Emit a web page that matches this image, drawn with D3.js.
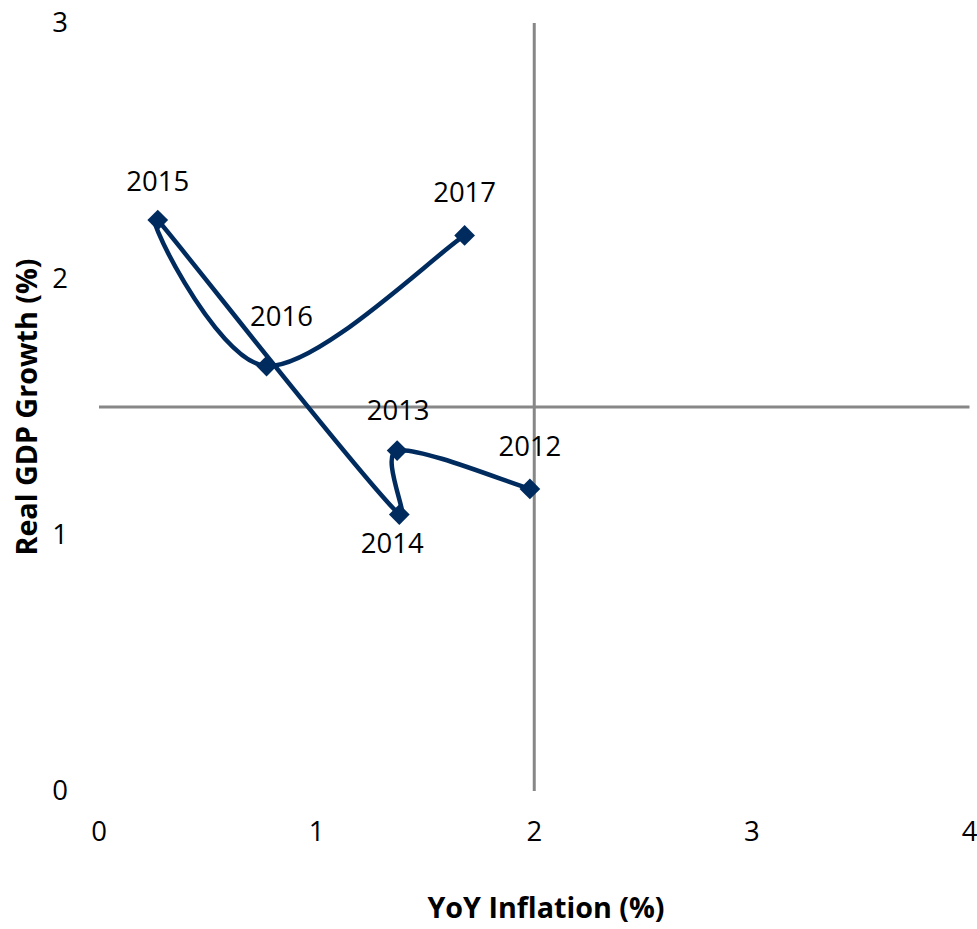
<!DOCTYPE html>
<html>
<head>
<meta charset="utf-8">
<script src="https://cdn.jsdelivr.net/npm/d3@7"></script>
<style>
  html, body { margin: 0; padding: 0; background: #ffffff; }
  svg { display: block; font-family: "Open Sans", "Noto Sans", sans-serif; }
</style>
</head>
<body>
<svg id="chart" width="977" height="929"></svg>
<script>
// Inflation vs. growth path, one point per year
const years = ["2012", "2013", "2014", "2015", "2016", "2017"];
const inflation = [1.98, 1.37, 1.38, 0.27, 0.77, 1.68];
const gdpGrowth = [1.18, 1.33, 1.08, 2.23, 1.66, 2.17];

const xTicks = [0, 1, 2, 3, 4];
const yTicks = [0, 1, 2, 3];
const xCross = 2;    // vertical axis crosses at this inflation value
const yCross = 1.5;  // horizontal axis crosses at this growth value

// label placement per year: [dx, dy] from the marker (text baseline)
const labelOffsets = [[0, -33], [1, -31], [-7, 38], [0, -29], [15, -40], [0, -33]];

const svg = d3.select("#chart");
const plot = { left: 99, right: 969.5, top: 23, bottom: 791 };

const x = d3.scaleLinear().domain([0, 4]).range([plot.left, plot.right]);
const y = d3.scaleLinear().domain([0, 3]).range([plot.bottom, plot.top]);

const navy = "#002b5e";
const axisGrey = "#878787";
const fontSize = 27.5;
const titleSize = 28.7;

// Smooth curve: Catmull-Rom style tangents (neighbour difference / 6),
// with each Bezier handle kept short relative to the segment it bends.
function SmoothCapped(context) { this._context = context; }
SmoothCapped.prototype = {
  areaStart() { this._line = 0; },
  areaEnd() { this._line = NaN; },
  lineStart() { this._pts = []; },
  lineEnd() {
    const p = this._pts, n = p.length, c = this._context;
    if (!n) return;
    c.moveTo(p[0][0], p[0][1]);
    const dist = (a, b) => Math.hypot(b[0] - a[0], b[1] - a[1]);
    const handle = (i, toward) => {
      const prev = p[Math.max(i - 1, 0)], next = p[Math.min(i + 1, n - 1)];
      let hx = (next[0] - prev[0]) / 6, hy = (next[1] - prev[1]) / 6;
      const seg = dist(p[i], p[i + toward]);
      const len = Math.hypot(hx, hy);
      const cap = seg * 0.29;
      if (len > cap && len > 0) { hx *= cap / len; hy *= cap / len; }
      return [p[i][0] + hx * toward, p[i][1] + hy * toward];
    };
    for (let i = 0; i < n - 1; i++) {
      const c1 = handle(i, 1), c2 = handle(i + 1, -1);
      c.bezierCurveTo(c1[0], c1[1], c2[0], c2[1], p[i + 1][0], p[i + 1][1]);
    }
  },
  point(px, py) { this._pts.push([+px, +py]); }
};
const curveSmoothCapped = ctx => new SmoothCapped(ctx);

// crossing axis lines
svg.append("line")
  .attr("x1", x(xCross)).attr("x2", x(xCross))
  .attr("y1", y(3)).attr("y2", y(0))
  .attr("stroke", axisGrey).attr("stroke-width", 3);
svg.append("line")
  .attr("x1", x(0)).attr("x2", x(4))
  .attr("y1", y(yCross)).attr("y2", y(yCross))
  .attr("stroke", axisGrey).attr("stroke-width", 3);

// tick labels
svg.append("g").selectAll("text").data(xTicks).join("text")
  .attr("x", d => x(d)).attr("y", 841)
  .attr("text-anchor", "middle")
  .attr("font-size", fontSize).attr("fill", "#000")
  .text(d => d);
svg.append("g").selectAll("text").data(yTicks).join("text")
  .attr("x", 60).attr("y", d => y(d) + 9)
  .attr("text-anchor", "middle")
  .attr("font-size", fontSize).attr("fill", "#000")
  .text(d => d);

// axis titles
svg.append("text")
  .attr("x", 546).attr("y", 918)
  .attr("text-anchor", "middle")
  .attr("font-size", titleSize).attr("font-weight", "bold").attr("fill", "#000")
  .text("YoY Inflation (%)");
svg.append("text")
  .attr("transform", `translate(37, ${(plot.top + plot.bottom) / 2}) rotate(-90)`)
  .attr("text-anchor", "middle")
  .attr("font-size", titleSize).attr("font-weight", "bold").attr("fill", "#000")
  .text("Real GDP Growth (%)");

const pts = years.map((yr, i) => ({ yr, xv: inflation[i], yv: gdpGrowth[i], off: labelOffsets[i] }));

// smoothed path through the years
const line = d3.line()
  .x(d => x(d.xv)).y(d => y(d.yv))
  .curve(curveSmoothCapped);
svg.append("path")
  .datum(pts)
  .attr("d", line)
  .attr("fill", "none")
  .attr("stroke", navy)
  .attr("stroke-width", 4.5)
  .attr("stroke-linejoin", "round")
  .attr("stroke-linecap", "round");

// diamond markers
const diamond = d3.symbol().type(d3.symbolSquare).size(215);
svg.append("g").selectAll("path").data(pts).join("path")
  .attr("d", diamond)
  .attr("transform", d => `translate(${x(d.xv)},${y(d.yv)}) rotate(45)`)
  .attr("fill", navy);

// year labels
svg.append("g").selectAll("text").data(pts).join("text")
  .attr("x", d => x(d.xv) + d.off[0])
  .attr("y", d => y(d.yv) + d.off[1])
  .attr("text-anchor", "middle")
  .attr("font-size", fontSize).attr("fill", "#000")
  .text(d => d.yr);
</script>
</body>
</html>
